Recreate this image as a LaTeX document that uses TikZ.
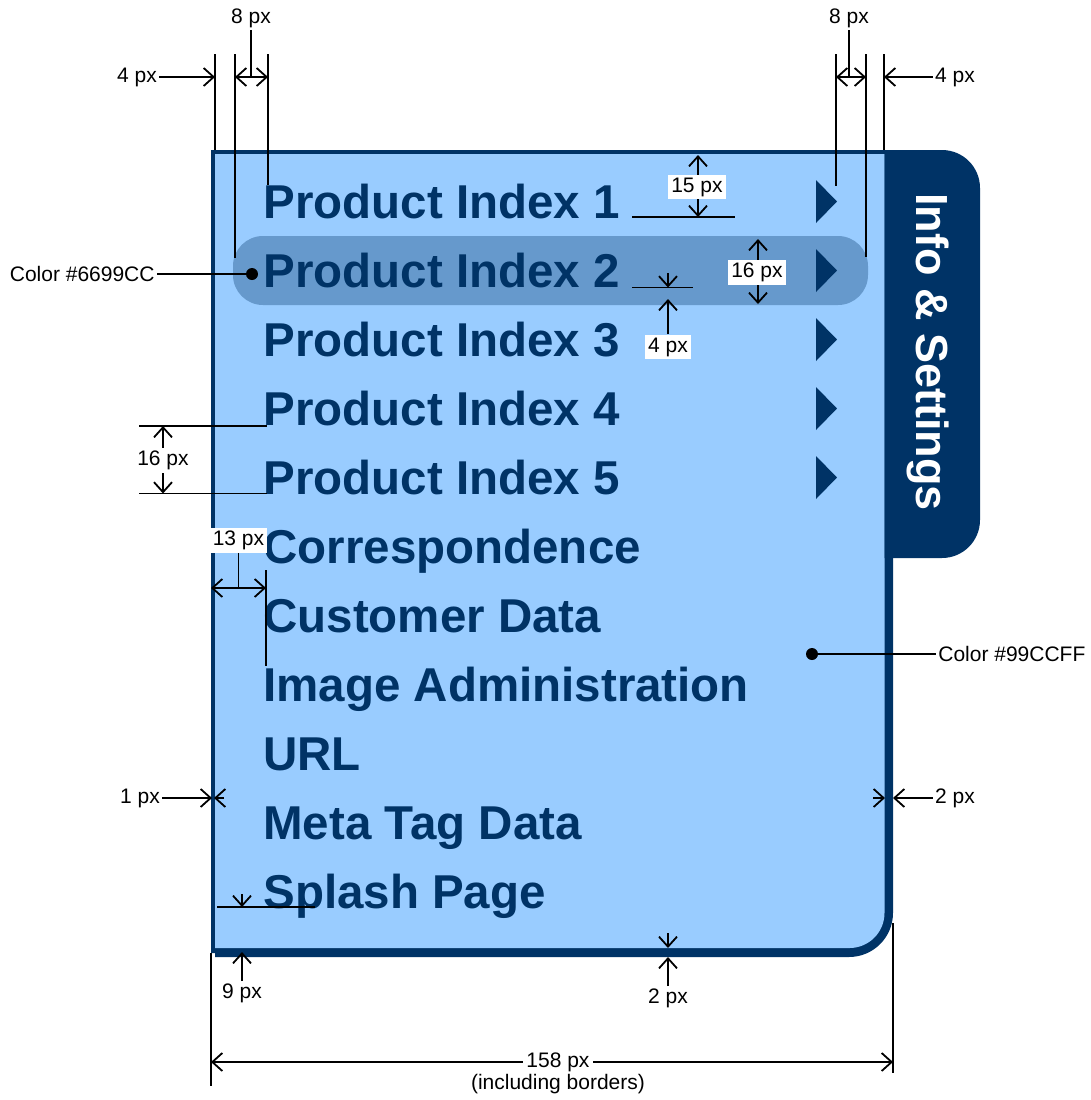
\documentclass[tikz,border=0pt]{standalone}
\usepackage{fontspec}
\setmainfont{Liberation Sans}
\usetikzlibrary{arrows.meta}
\definecolor{navy}{HTML}{003366}
\definecolor{panelblue}{HTML}{99CCFF}
\definecolor{hlblue}{HTML}{6699CC}
\begin{document}
\begin{tikzpicture}[x=0.5pt,y=-0.5pt,
  >={Straight Barb[length=5pt,width=9pt]},
  dimline/.style={line width=0.9pt,black},
  dimlabel/.style={font=\fontsize{10.5pt}{12pt}\selectfont, inner sep=1pt, text=black},
  boxlabel/.style={dimlabel, fill=white, inner sep=1.5pt},
  item/.style={font=\fontsize{23.75pt}{28pt}\selectfont\bfseries, text=navy, inner sep=0pt, anchor=base west},
  tri/.style={fill=navy},
  dot/.style={fill=black}
]
\fill[white] (0,0) rectangle (1091,1100);
\useasboundingbox (0,0) rectangle (1091,1100);

% panel outer (border)
\fill[navy] (211,150) -- (893,150) -- (893,913)
  .. controls (893,937.3) and (873.3,957) .. (849,957)
  -- (215,957) -- (215,953) -- (211,953) -- cycle;
% panel inner
\fill[panelblue] (215,154) -- (884.5,154) -- (884.5,913)
  .. controls (884.5,932.3) and (868.8,948) .. (849.5,948)
  -- (215,948) -- cycle;
% tab
\fill[navy] (884.5,150) -- (942,150)
  .. controls (963,150) and (980,167) .. (980,188)
  -- (980,520) .. controls (980,541) and (963,558) .. (942,558)
  -- (884.5,558) -- cycle;
\node[font=\fontsize{22.5pt}{26pt}\selectfont\bfseries, text=white, rotate=-90, anchor=base west, inner sep=0pt] (tabtext) at (916,193) {Info \& Settings};

% highlight
\fill[hlblue, rounded corners=15pt] (233,236) rectangle (868,305);

% items
\foreach \t [count=\i from 0] in {Product Index 1,Product Index 2,Product Index 3,Product Index 4,Product Index 5,Correspondence,Customer Data,Image Administration,URL,Meta Tag Data,Splash Page}
  \node[item] (item\i) at (263,{218.5+69*\i}) {\t};

% submenu triangles
\foreach \i in {0,...,4}
  \fill[tri] (816,{180+69*\i}) -- (837,{201.5+69*\i}) -- (816,{223+69*\i}) -- cycle;

% ---------- annotations ----------
% top left
\node[dimlabel] (l8a) at (251,18) {8 px};
\node[dimlabel] (l4a) at (137,77) {4 px};
\coordinate (a8l) at (235,77);
\coordinate (a8r) at (268,77);
\coordinate (a4t) at (215,77);
\draw[dimline] (215,54) -- (215,150);
\draw[dimline] (235,54) -- (235,258);
\draw[dimline] (268,54) -- (268,185);
\draw[dimline,<->] (a8l) -- (a8r);
\draw[dimline] (l8a.south) -- (l8a.south |- a8l);
\draw[dimline,->] (l4a.east) -- (a4t);

% top right
\node[dimlabel] (l8b) at (849,18) {8 px};
\node[dimlabel] (l4b) at (955,77) {4 px};
\coordinate (b8l) at (836,77);
\coordinate (b8r) at (866,77);
\coordinate (b4t) at (884,77);
\draw[dimline] (836,54) -- (836,186);
\draw[dimline] (866,54) -- (866,257);
\draw[dimline] (884,54) -- (884,150);
\draw[dimline,<->] (b8l) -- (b8r);
\draw[dimline] (l8b.south) -- (l8b.south |- b8l);
\draw[dimline,->] (l4b.west) -- (b4t);

% 15 px
\coordinate (f1) at (698,155);
\coordinate (f2) at (698,217);
\draw[dimline] (632,217) -- (735,217);
\draw[dimline,<->] (f1) -- (f2);
\node[boxlabel] (l15) at (697,187) {15 px};

% 16 px (highlight)
\coordinate (h1) at (758,239);
\coordinate (h2) at (758,304);
\draw[dimline,<->] (h1) -- (h2);
\node[boxlabel] (l16h) at (757,272) {16 px};

% 4 px (below baseline)
\coordinate (g1) at (668,287.5);
\coordinate (g2) at (668,299);
\draw[dimline] (632,287.5) -- (693,287.5);
\draw[dimline,->] (668,273) -- (g1);
\node[boxlabel] (l4c) at (668,347) {4 px};
\draw[dimline,->] (l4c.north) -- (g2);

% Color #6699CC
\node[dimlabel, anchor=east] (c1) at (157,274) {Color \#6699CC};
\coordinate (dot1) at (252,274);
\fill[dot] (dot1) circle[radius=3pt];
\draw[dimline] (c1.east) -- (dot1);

% 16 px (left)
\coordinate (p1) at (163,426);
\coordinate (p2) at (163,493.5);
\draw[dimline] (139,426) -- (267,426);
\draw[dimline] (139,493.5) -- (267,493.5);
\draw[dimline,<->] (p1) -- (p2);
\node[boxlabel] (l16l) at (163,460) {16 px};

% 13 px
\coordinate (m1) at (211,588);
\coordinate (m2) at (266,588);
\draw[dimline] (266,570) -- (266,666);
\draw[dimline,<->] (m1) -- (m2);
\node[boxlabel] (l13) at (238.5,540) {13 px};
\draw[dimline] (l13.south) -- (l13.south |- m1);

% Color #99CCFF
\coordinate (dot2) at (812,654);
\node[dimlabel, anchor=west] (c2) at (936,654) {Color \#99CCFF};
\fill[dot] (dot2) circle[radius=3pt];
\draw[dimline] (dot2) -- (c2.west);

% 1 px
\node[dimlabel] (l1) at (140,798) {1 px};
\coordinate (o1) at (212,798);
\coordinate (o2) at (214,798);
\draw[dimline,->] (l1.east) -- (o1);
\draw[dimline,->] (224,798) -- (o2);

% 2 px right
\node[dimlabel] (l2r) at (955,798) {2 px};
\coordinate (r1) at (885,798);
\coordinate (r2) at (893,798);
\draw[dimline,->] (873,798) -- (r1);
\draw[dimline,->] (l2r.west) -- (r2);

% 9 px
\coordinate (n1) at (242,907);
\coordinate (n2) at (242,952);
\draw[dimline] (217,907) -- (315,907);
\draw[dimline,->] (242,894) -- (n1);
\node[dimlabel] (l9) at (242,993) {9 px};
\draw[dimline,->] (l9.north) -- (n2);

% 2 px bottom
\coordinate (q1) at (668,948);
\coordinate (q2) at (668,957);
\draw[dimline,->] (668,933) -- (q1);
\node[dimlabel] (l2b) at (668,998) {2 px};
\draw[dimline,->] (l2b.north) -- (q2);

% 158 px
\coordinate (w1) at (211,1062);
\coordinate (w2) at (893,1062);
\draw[dimline] (211,953) -- (211,1086);
\draw[dimline] (893,923) -- (893,1073);
\draw[dimline,<->] (w1) -- (w2);
\node[boxlabel] (l158) at (558,1062) {158 px};
\node[dimlabel] (lincl) at (558,1084) {(including borders)};
\end{tikzpicture}
\end{document}
